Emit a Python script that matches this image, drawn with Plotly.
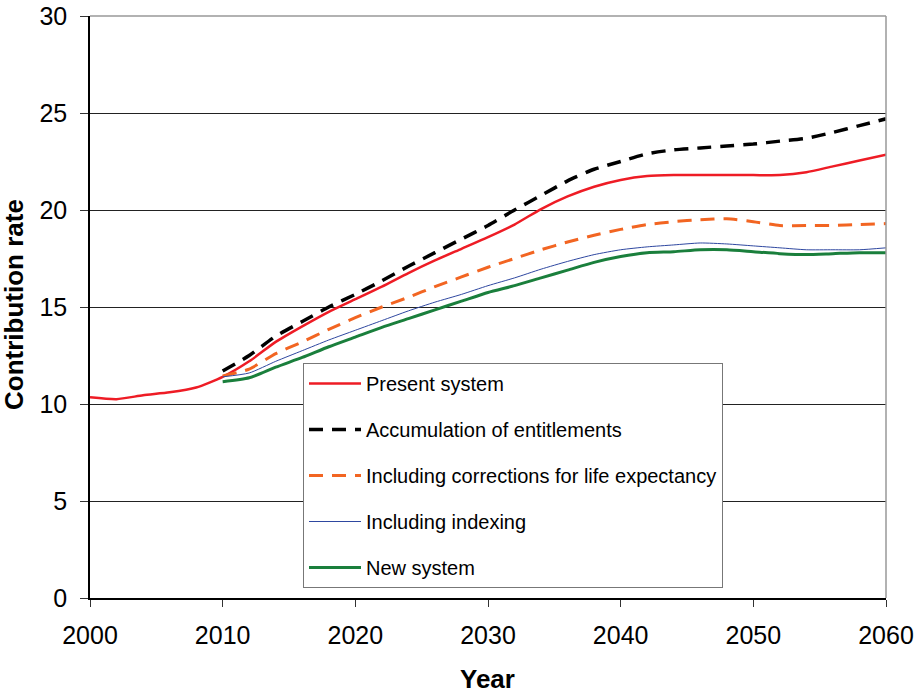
import plotly.graph_objects as go

years_present = list(range(2000, 2061, 2))
present = [10.35, 10.25, 10.45, 10.6, 10.85, 11.4, 12.2, 13.2, 14.0, 14.75, 15.4, 16.05, 16.75,
           17.4, 18.0, 18.6, 19.25, 20.05, 20.7, 21.2, 21.55, 21.75, 21.8, 21.8, 21.8, 21.8,
           21.8, 21.95, 22.25, 22.55, 22.85]

years_new = list(range(2010, 2061, 2))
accumulation = [11.7, 12.5, 13.5, 14.25, 15.0, 15.65, 16.35, 17.1, 17.8, 18.5, 19.2, 20.0, 20.75,
                21.5, 22.1, 22.5, 22.9, 23.1, 23.2, 23.3, 23.4, 23.55, 23.7, 24.0, 24.35, 24.7]
life_exp = [11.45, 11.8, 12.6, 13.2, 13.85, 14.45, 15.0, 15.5, 16.05, 16.55, 17.05, 17.5, 17.95,
            18.35, 18.7, 19.0, 19.25, 19.4, 19.5, 19.55, 19.4, 19.2, 19.2, 19.2, 19.25, 19.3]
indexing = [11.4, 11.6, 12.2, 12.75, 13.3, 13.8, 14.3, 14.8, 15.25, 15.65, 16.1, 16.5, 16.95,
            17.35, 17.7, 17.95, 18.1, 18.2, 18.3, 18.25, 18.15, 18.05, 17.95, 17.95, 17.95, 18.05]
new_system = [11.15, 11.35, 11.9, 12.4, 12.95, 13.45, 13.95, 14.4, 14.85, 15.3, 15.75, 16.1, 16.5,
              16.9, 17.3, 17.6, 17.8, 17.85, 17.95, 17.95, 17.85, 17.75, 17.7, 17.75, 17.8, 17.8]

x_ticks = [2000, 2010, 2020, 2030, 2040, 2050, 2060]
y_ticks = [0, 5, 10, 15, 20, 25, 30]

FONT = "Liberation Sans, Arial, sans-serif"

fig = go.Figure()
series = [
    ("Present system", years_present, present, dict(color="#ee1c25", width=2.5)),
    ("Accumulation of entitlements", years_new, accumulation, dict(color="#000000", width=3.5, dash="14px,9px")),
    ("Including corrections for life expectancy", years_new, life_exp, dict(color="#f26522", width=3, dash="14px,9px")),
    ("Including indexing", years_new, indexing, dict(color="#2e47a0", width=1)),
    ("New system", years_new, new_system, dict(color="#1a7f3c", width=3)),
]
for i, (name, xs, ys, line) in enumerate(series):
    fig.add_trace(go.Scatter(x=xs, y=ys, name=name, mode="lines", line=dict(shape="spline", smoothing=0.6, **line),
                             legendgroup=f"g{i}"))

# top and right border
fig.add_shape(type="line", xref="paper", yref="paper", x0=0, x1=1, y0=1, y1=1, line=dict(color="#999999", width=1.5))
fig.add_shape(type="line", xref="paper", yref="paper", x0=1, x1=1, y0=0, y1=1, line=dict(color="#999999", width=1.5))

# plot area: 796 x 582 px (left 90, top 16)
PW, PH = 796.0, 582.0
fig.add_annotation(text="<b>Contribution rate</b>", xref="paper", yref="paper",
                   x=(14 - 90) / PW, y=(598 - 305) / PH, xanchor="center", yanchor="middle",
                   textangle=-90, showarrow=False, font=dict(size=26, family=FONT))
fig.add_annotation(text="<b>Year</b>", xref="paper", yref="paper",
                   x=(487 - 90) / PW, y=(598 - 679) / PH, xanchor="center", yanchor="middle",
                   showarrow=False, font=dict(size=26, family=FONT))

fig.update_layout(
    width=916, height=693,
    margin=dict(l=90, r=30, t=16, b=95),
    paper_bgcolor="white", plot_bgcolor="white",
    font=dict(family=FONT, color="black"),
    showlegend=True,
    legend=dict(
        x=(303 - 90) / PW, y=(598 - 363) / PH, xanchor="left", yanchor="top",
        bgcolor="white", bordercolor="#777777", borderwidth=1,
        font=dict(size=20, family=FONT),
        tracegroupgap=17,
        itemwidth=52,
    ),
    xaxis=dict(
        range=[2000, 2060], tickvals=x_ticks, ticks="outside", ticklen=7, tickcolor="#333",
        showline=True, linecolor="black", linewidth=1.5, showgrid=False, zeroline=False,
        tickfont=dict(size=25, family=FONT), ticklabelstandoff=7, automargin=False,
        ticklabeloverflow="allow",
    ),
    yaxis=dict(
        range=[0, 30], tickvals=y_ticks, ticks="outside", ticklen=8, tickcolor="#333",
        showline=True, linecolor="black", linewidth=1.5, showgrid=True, gridcolor="#222222", gridwidth=1,
        zeroline=False, tickfont=dict(size=25, family=FONT), automargin=False, ticklabelstandoff=8,
        ticklabeloverflow="allow",
    ),
)

fig.write_html("out.html", config={"displayModeBar": False},
               post_script="document.body.style.margin='0';")
